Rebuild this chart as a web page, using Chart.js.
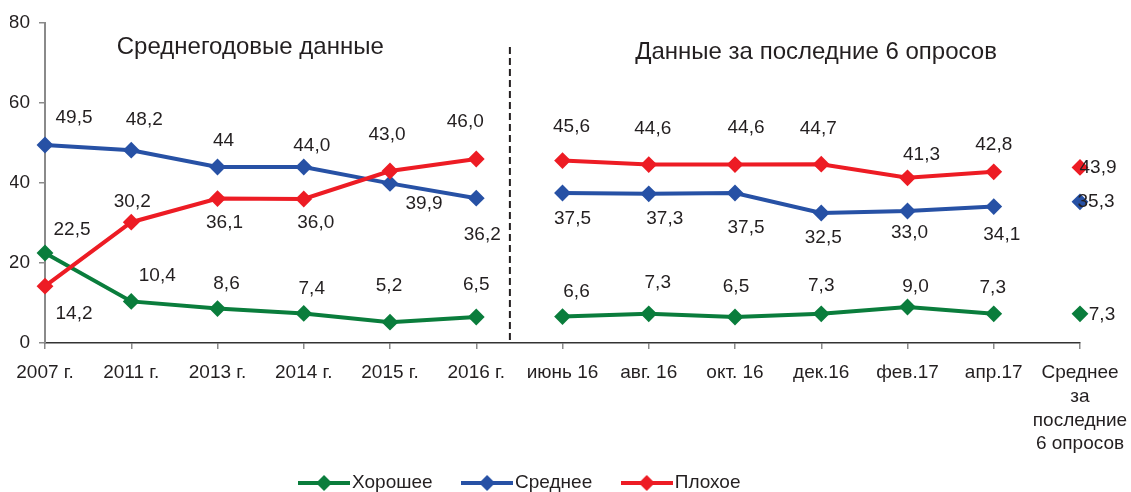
<!DOCTYPE html>
<html lang="ru">
<head>
<meta charset="utf-8">
<title>Оценки: хорошее, среднее, плохое</title>
<script src="https://cdn.jsdelivr.net/npm/chart.js@4.4.1/dist/chart.umd.min.js"></script>
<style>
  html, body { margin: 0; padding: 0; background: #fff; }
  #wrap { width: 1131px; height: 492px; position: relative; }
</style>
</head>
<body>
<div id="wrap"><canvas id="moodChart"></canvas></div>
<script>
// Data
const periods = ["2007 г.", "2011 г.", "2013 г.", "2014 г.", "2015 г.", "2016 г.",
  "июнь 16", "авг. 16", "окт. 16", "дек.16", "фев.17", "апр.17",
  ["Среднее", "за", "последние", "6 опросов"]];

const good = [22.5, 10.4, 8.6, 7.4, 5.2, 6.5, 6.6, 7.3, 6.5, 7.3, 9.0, 7.3, 7.3];
const medium = [49.5, 48.2, 44, 44.0, 39.9, 36.2, 37.5, 37.3, 37.5, 32.5, 33.0, 34.1, 35.3];
const bad = [14.2, 30.2, 36.1, 36.0, 43.0, 46.0, 45.6, 44.6, 44.6, 44.7, 41.3, 42.8, 43.9];

const yTicks = [0, 20, 40, 60, 80];
const seriesNames = ["Хорошее", "Среднее", "Плохое"];
const sectionTitles = ["Среднегодовые данные", "Данные за последние 6 опросов"];

// the line is broken after these points (years | polls | average)
const breaksAfter = [5, 11];
// one label is printed without decimals in the source
const textOverride = { medium: { 2: "44" } };

// Look
const FONT = "'Liberation Sans', Arial, sans-serif";
const INK = "#231f20";
const colors = { good: "#0a7d3c", medium: "#2751a5", bad: "#ed1c24" };

// label offsets from the point, px [dx, dy]
const labelShift = {
  good: [[27,-23],[26,-26],[9,-25],[8,-25],[-1,-36],[0,-32],[14,-25],[9,-31],[1,-30],[0,-28],[8,-20],[-1,-26],[22,1]],
  medium: [[29,-27],[13,-30],[6,-26],[8,-21],[34,20],[6,37],[10,26],[16,25],[11,35],[2,25],[2,22],[8,28],[16,0]],
  bad: [[29,28],[1,-20],[7,24],[12,24],[-3,-36],[-11,-37],[9,-34],[4,-36],[11,-37],[-3,-35],[14,-23],[0,-27],[18,0]]
};

// divider and section titles, in axis units (category index, value)
const divider = { at: 5.39, top: 74 };
const titlePos = [[2.38, 74], [8.94, 72.75]];
const legendMid = [523, 483];
const LEGEND_PAD = 36;

Chart.defaults.font.family = FONT;
Chart.defaults.font.size = 19;
Chart.defaults.color = INK;

function legendIcon(color) {
  const c = document.createElement("canvas");
  c.width = 52;
  c.height = 18;
  const g = c.getContext("2d");
  g.strokeStyle = color;
  g.lineWidth = 4;
  g.beginPath();
  g.moveTo(0, 9);
  g.lineTo(52, 9);
  g.stroke();
  g.fillStyle = color;
  g.beginPath();
  g.moveTo(26, 1);
  g.lineTo(34, 9);
  g.lineTo(26, 17);
  g.lineTo(18, 9);
  g.closePath();
  g.fill();
  return c;
}

function makeSet(key, label, data, order) {
  const color = colors[key];
  return {
    key, label, data, order,
    borderColor: color,
    backgroundColor: color,
    borderWidth: 4,
    pointStyle: "rectRot",
    pointRadius: 7,
    pointHoverRadius: 7,
    pointBorderWidth: 2,
    pointBackgroundColor: color,
    pointBorderColor: color,
    tension: 0,
    clip: false,
    segment: {
      borderColor: ctx => breaksAfter.includes(ctx.p0DataIndex) ? "transparent" : undefined
    }
  };
}

function valueText(key, i, v) {
  const o = textOverride[key];
  if (o && o[i] !== undefined) return o[i];
  return v.toFixed(1).replace(".", ",");
}

const icons = [legendIcon(colors.good), legendIcon(colors.medium), legendIcon(colors.bad)];

// dashed divider + section headings
const sections = {
  id: "sections",
  beforeDatasetsDraw(chart) {
    const { ctx, scales: { x, y } } = chart;
    const px = x.getPixelForValue(divider.at);
    ctx.save();
    ctx.strokeStyle = INK;
    ctx.lineWidth = 2;
    ctx.setLineDash([7, 4]);
    ctx.beginPath();
    ctx.moveTo(px, y.getPixelForValue(divider.top));
    ctx.lineTo(px, y.bottom);
    ctx.stroke();
    ctx.setLineDash([]);
    ctx.font = "24px " + FONT;
    ctx.fillStyle = INK;
    ctx.textAlign = "center";
    ctx.textBaseline = "middle";
    sectionTitles.forEach((t, i) => {
      ctx.fillText(t, x.getPixelForValue(titlePos[i][0]), y.getPixelForValue(titlePos[i][1]));
    });
    ctx.restore();
  }
};

// value labels next to the points
const valueLabels = {
  id: "valueLabels",
  afterDatasetsDraw(chart) {
    const ctx = chart.ctx;
    ctx.save();
    ctx.font = "19px " + FONT;
    ctx.fillStyle = INK;
    ctx.textAlign = "center";
    ctx.textBaseline = "middle";
    chart.data.datasets.forEach((ds, i) => {
      const meta = chart.getDatasetMeta(i);
      const shift = labelShift[ds.key];
      meta.data.forEach((pt, j) => {
        ctx.fillText(valueText(ds.key, j, ds.data[j]), pt.x + shift[j][0], pt.y + shift[j][1]);
      });
    });
    ctx.restore();
  }
};

// legend sits a bit left of centre, low in the picture
const legendPlace = {
  id: "legendPlace",
  afterLayout(chart) {
    const lg = chart.legend;
    const dx = legendMid[0] - (lg.left + lg.right) / 2;
    const dy = legendMid[1] - (lg.top + LEGEND_PAD + 9.5);
    lg.left += dx; lg.right += dx;
    lg.top += dy; lg.bottom += dy;
  }
};

const ctx = document.getElementById("moodChart").getContext("2d");
const moodChart = new Chart(ctx, {
  type: "line",
  data: {
    labels: periods,
    datasets: [
      makeSet("good", seriesNames[0], good, 3),
      makeSet("medium", seriesNames[1], medium, 2),
      makeSet("bad", seriesNames[2], bad, 1)
    ]
  },
  options: {
    responsive: true,
    maintainAspectRatio: false,
    animation: false,
    layout: { padding: { left: 10, right: 51, top: 23, bottom: -30 } },
    scales: {
      x: {
        offset: false,
        grid: { drawOnChartArea: false, drawTicks: true, tickLength: 6, color: "#8a8a8a", lineWidth: 1.5 },
        border: { color: "#333", width: 1.5 },
        ticks: { autoSkip: false, maxRotation: 0, padding: 12, font: { size: 19, lineHeight: 1.25 } },
        afterFit(scale) {
          scale.height = 114;
          scale.paddingLeft = 0;
          scale.paddingRight = 0;
        }
      },
      y: {
        min: yTicks[0],
        max: yTicks[yTicks.length - 1],
        grid: { drawOnChartArea: false, drawTicks: true, tickLength: 6, color: "#8a8a8a", lineWidth: 1.5 },
        border: { color: "#8a8a8a", width: 2 },
        ticks: { stepSize: yTicks[1] - yTicks[0], padding: 9, font: { size: 19 } },
        afterFit(scale) { scale.width = 35; }
      }
    },
    plugins: {
      tooltip: { enabled: false },
      legend: {
        position: "bottom",
        labels: {
          usePointStyle: true,
          pointStyleWidth: 37,
          padding: LEGEND_PAD,
          font: { size: 19 },
          sort: (a, b) => a.datasetIndex - b.datasetIndex,
          generateLabels(chart) {
            const items = Chart.defaults.plugins.legend.labels.generateLabels(chart);
            items.forEach(it => { it.pointStyle = icons[it.datasetIndex]; });
            return items;
          }
        }
      }
    }
  },
  plugins: [sections, valueLabels, legendPlace]
});
</script>
</body>
</html>
